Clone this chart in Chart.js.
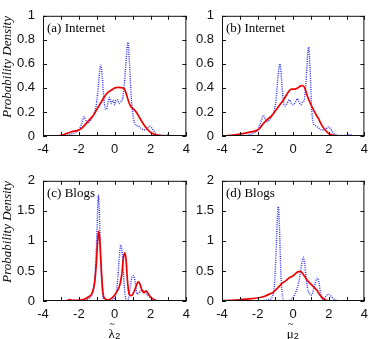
<!DOCTYPE html>
<html>
<head>
<meta charset="utf-8">
<script src="https://cdn.jsdelivr.net/npm/chart.js@4.4.0/dist/chart.umd.min.js"></script>
<style>
  html, body { margin: 0; padding: 0; background: #fff; }
  #wrap { position: relative; width: 374px; height: 339px; overflow: hidden; }
  #wrap canvas { position: absolute; }
</style>
</head>
<body>
<div id="wrap">
  <canvas id="gA" width="196" height="165" style="left:0;top:0"></canvas>
  <canvas id="gB" width="184" height="165" style="left:190px;top:0"></canvas>
  <canvas id="gC" width="196" height="174" style="left:0;top:165px"></canvas>
  <canvas id="gD" width="184" height="174" style="left:190px;top:165px"></canvas>
</div>
<script>
// ========== DADOS ==========
// (a) Internet, lambda
const xA_azul = [-4, -3.1, -2.8, -2.5, -2.2, -2.0, -1.85, -1.7, -1.6, -1.5, -1.35, -1.2, -1.05, -0.95, -0.85, -0.78, -0.7, -0.6, -0.48, -0.38, -0.29, -0.2, -0.1, 0, 0.08, 0.16, 0.24, 0.32, 0.45, 0.55, 0.65, 0.74, 0.82, 0.9, 1.0, 1.1, 1.2, 1.35, 1.5, 1.7, 1.85, 1.97, 2.1, 2.3, 2.6, 2.85, 2.97, 3.1, 3.4, 4];
const yA_azul = [0, 0, 0.005, 0.012, 0.03, 0.05, 0.1, 0.16, 0.13, 0.11, 0.13, 0.17, 0.24, 0.35, 0.52, 0.59, 0.5, 0.3, 0.22, 0.27, 0.32, 0.27, 0.3, 0.26, 0.3, 0.3, 0.27, 0.28, 0.32, 0.45, 0.65, 0.78, 0.62, 0.38, 0.2, 0.11, 0.09, 0.08, 0.06, 0.05, 0.07, 0.08, 0.06, 0.02, 0.005, 0.005, 0.012, 0.004, 0, 0];
const xA_verm = [-4, -3.2, -3.0, -2.7, -2.4, -2.0, -1.8, -1.5, -1.2, -1.0, -0.8, -0.6, -0.4, -0.2, 0, 0.2, 0.45, 0.55, 0.65, 0.75, 0.88, 1.0, 1.2, 1.4, 1.6, 1.8, 2.0, 2.2, 2.5, 3, 4];
const yA_verm = [0, 0, 0.005, 0.02, 0.035, 0.05, 0.07, 0.12, 0.17, 0.22, 0.27, 0.32, 0.36, 0.38, 0.4, 0.405, 0.4, 0.39, 0.35, 0.3, 0.25, 0.23, 0.2, 0.15, 0.1, 0.06, 0.03, 0.015, 0.005, 0, 0];

// (b) Internet, mu
const xB_azul = [-4, -3.0, -2.6, -2.3, -2.0, -1.85, -1.67, -1.57, -1.47, -1.35, -1.2, -1.05, -0.95, -0.85, -0.74, -0.66, -0.56, -0.45, -0.35, -0.22, -0.1, 0, 0.12, 0.24, 0.33, 0.42, 0.52, 0.62, 0.72, 0.8, 0.87, 0.95, 1.03, 1.12, 1.22, 1.4, 1.6, 1.8, 1.96, 2.1, 2.3, 2.6, 3.0, 3.2, 3.4, 4];
const yB_azul = [0, 0, 0.005, 0.02, 0.05, 0.1, 0.17, 0.14, 0.12, 0.13, 0.17, 0.22, 0.32, 0.5, 0.6, 0.48, 0.3, 0.25, 0.27, 0.3, 0.27, 0.26, 0.28, 0.31, 0.28, 0.26, 0.28, 0.3, 0.45, 0.65, 0.74, 0.55, 0.25, 0.11, 0.09, 0.07, 0.05, 0.05, 0.075, 0.06, 0.02, 0.005, 0.005, 0.012, 0.003, 0];
const xB_verm = [-4, -3.5, -3.0, -2.5, -2.0, -1.85, -1.7, -1.5, -1.2, -1.0, -0.7, -0.5, -0.3, -0.1, 0.1, 0.25, 0.4, 0.52, 0.65, 0.8, 1.0, 1.2, 1.4, 1.6, 1.8, 2.0, 2.3, 2.7, 4];
const yB_verm = [0, 0.005, 0.015, 0.03, 0.05, 0.07, 0.1, 0.13, 0.17, 0.21, 0.27, 0.31, 0.36, 0.39, 0.39, 0.4, 0.415, 0.42, 0.4, 0.33, 0.26, 0.2, 0.15, 0.09, 0.05, 0.02, 0.005, 0, 0];

// (c) Blogs, lambda
const xC_azul = [-4, -2, -1.6, -1.4, -1.25, -1.12, -1.02, -0.96, -0.91, -0.86, -0.79, -0.71, -0.62, -0.5, -0.3, -0.1, 0.05, 0.15, 0.25, 0.34, 0.42, 0.5, 0.58, 0.68, 0.78, 0.88, 0.97, 1.06, 1.15, 1.24, 1.34, 1.45, 1.57, 1.7, 1.82, 1.95, 2.1, 2.3, 2.5, 4];
const yC_azul = [0, 0, 0.02, 0.05, 0.12, 0.35, 0.9, 1.45, 1.77, 1.5, 0.8, 0.25, 0.03, 0, 0, 0.02, 0.1, 0.3, 0.7, 0.93, 0.8, 0.4, 0.1, 0.01, 0.05, 0.25, 0.4, 0.42, 0.3, 0.12, 0.13, 0.17, 0.17, 0.14, 0.1, 0.06, 0.03, 0.01, 0, 0];
const xC_verm = [-4, -2.8, -2.62, -2.5, -2.38, -2.1, -1.7, -1.45, -1.28, -1.12, -1.02, -0.95, -0.9, -0.84, -0.76, -0.66, -0.55, -0.4, -0.2, 0, 0.15, 0.28, 0.4, 0.48, 0.56, 0.63, 0.71, 0.8, 0.9, 1.0, 1.1, 1.2, 1.28, 1.34, 1.42, 1.52, 1.62, 1.75, 1.85, 2.0, 2.2, 2.4, 4];
const yC_verm = [0, 0, 0.01, 0.025, 0.01, 0.01, 0.03, 0.07, 0.12, 0.3, 0.65, 1.0, 1.16, 1.05, 0.6, 0.15, 0.04, 0.02, 0.04, 0.1, 0.17, 0.26, 0.45, 0.7, 0.8, 0.7, 0.35, 0.12, 0.09, 0.11, 0.17, 0.25, 0.31, 0.32, 0.27, 0.18, 0.14, 0.17, 0.13, 0.07, 0.02, 0, 0];

// (d) Blogs, mu
const xD_azul = [-4, -2, -1.6, -1.4, -1.2, -1.06, -0.97, -0.9, -0.84, -0.78, -0.71, -0.63, -0.52, -0.3, -0.15, 0, 0.15, 0.3, 0.42, 0.5, 0.57, 0.64, 0.72, 0.8, 0.9, 1.0, 1.1, 1.2, 1.3, 1.37, 1.45, 1.55, 1.66, 1.78, 1.9, 2.0, 2.15, 2.35, 2.7, 4];
const yD_azul = [0, 0, 0.01, 0.02, 0.06, 0.25, 0.75, 1.3, 1.57, 1.3, 0.6, 0.15, 0.01, 0, 0.02, 0.06, 0.15, 0.3, 0.5, 0.66, 0.73, 0.62, 0.4, 0.22, 0.13, 0.1, 0.14, 0.25, 0.36, 0.38, 0.3, 0.12, 0.03, 0.06, 0.1, 0.11, 0.07, 0.02, 0, 0];
const xD_verm = [-4, -3.5, -3, -2.5, -2, -1.6, -1.3, -1.15, -1.0, -0.8, -0.6, -0.4, -0.2, 0, 0.15, 0.3, 0.42, 0.6, 0.8, 1.0, 1.2, 1.35, 1.5, 1.65, 1.8, 2.0, 4];
const yD_verm = [0.005, 0.01, 0.02, 0.035, 0.05, 0.08, 0.12, 0.14, 0.18, 0.24, 0.3, 0.34, 0.39, 0.42, 0.46, 0.49, 0.49, 0.43, 0.34, 0.28, 0.22, 0.17, 0.1, 0.05, 0.02, 0, 0];

// eixos
const limitesX = [-4, 4];
const passoX = 1;
const rotulosX = [-4, -2, 0, 2, 4];
const limitesY_internet = [0, 1];
const passoY_internet = 0.2;
const limitesY_blogs = [0, 2];
const passoY_blogs = 0.5;

const titulos = ['(a) Internet', '(b) Internet', '(c) Blogs', '(d) Blogs'];
const rotuloY = 'Probability Density';

const FONTE_NUM = "'Liberation Sans', Arial, sans-serif";
const FONTE_TXT = "13px 'Liberation Serif', 'Times New Roman', serif";

// ========== PLUGIN: moldura, ticks para dentro, textos ==========
const molduraPlugin = {
    id: 'moldura',
    afterDatasetsDraw(chart, args, opts) {
        const { ctx, chartArea: a, scales } = chart;
        ctx.save();
        ctx.strokeStyle = '#111';
        ctx.lineWidth = 1;
        ctx.beginPath();
        scales.x.ticks.forEach(t => {
            const px = Math.round(scales.x.getPixelForValue(t.value)) + 0.5;
            ctx.moveTo(px, a.bottom); ctx.lineTo(px, a.bottom - 4);
            ctx.moveTo(px, a.top); ctx.lineTo(px, a.top + 4);
        });
        scales.y.ticks.forEach(t => {
            const py = Math.round(scales.y.getPixelForValue(t.value)) + 0.5;
            ctx.moveTo(a.left, py); ctx.lineTo(a.left + 4, py);
            ctx.moveTo(a.right, py); ctx.lineTo(a.right - 4, py);
        });
        ctx.stroke();
        ctx.strokeRect(a.left + 0.5, a.top + 0.5, a.width - 1, a.height - 1);
        ctx.restore();
    },
    afterDraw(chart, args, opts) {
        const { ctx, chartArea: a } = chart;
        ctx.save();
        ctx.fillStyle = '#000';
        // titulo do painel
        ctx.font = FONTE_TXT;
        ctx.textAlign = 'left';
        ctx.textBaseline = 'alphabetic';
        ctx.fillText(opts.titulo, a.left + 4, a.top + 16.5);
        // rotulo vertical
        if (opts.rotuloY) {
            ctx.save();
            ctx.translate(8, (a.top + a.bottom) / 2 - 9);
            ctx.rotate(-Math.PI / 2);
            ctx.font = "italic " + FONTE_TXT;
            ctx.textAlign = 'center';
            ctx.textBaseline = 'middle';
            ctx.fillText(opts.rotuloY, 0, 0);
            ctx.restore();
        }
        // rotulo horizontal: letra grega, til por cima, indice 2
        if (opts.letraX) {
            const cx = (a.left + a.right) / 2 - 3;
            const base = chart.height - 1.5;
            ctx.font = FONTE_TXT;
            ctx.textAlign = 'center';
            ctx.fillText(opts.letraX, cx, base);
            ctx.font = "10px 'Liberation Serif', serif";
            ctx.fillText('~', cx + 0.5, base - 11);
            ctx.font = "9px " + FONTE_NUM;
            ctx.textAlign = 'left';
            ctx.fillText('2', cx + 3.5, chart.height);
        }
        ctx.restore();
    }
};

// ========== CRIAR GRAFICO ==========
function criarPainel(id, xAzul, yAzul, xVerm, yVerm, limY, passoY, config) {
    const ctx = document.getElementById(id).getContext('2d');
    const pontos = (xs, ys) => xs.map((x, i) => ({ x: x, y: ys[i] }));

    return new Chart(ctx, {
        type: 'line',
        data: {
            datasets: [
                {
                    data: pontos(xVerm, yVerm),
                    borderColor: '#ee0000',
                    borderWidth: 1.7,
                    pointRadius: 0,
                    cubicInterpolationMode: 'monotone',
                    fill: false
                },
                {
                    data: pontos(xAzul, yAzul),
                    borderColor: '#2a2aff',
                    borderWidth: 1.4,
                    borderDash: [1, 1.2],
                    pointRadius: 0,
                    cubicInterpolationMode: 'monotone',
                    fill: false
                }
            ]
        },
        options: {
            responsive: false,
            animation: false,
            events: [],
            layout: { padding: { top: 5, right: 5, left: 0, bottom: 0 } },
            plugins: {
                legend: { display: false },
                tooltip: { enabled: false },
                moldura: config
            },
            scales: {
                x: {
                    type: 'linear',
                    min: limitesX[0],
                    max: limitesX[1],
                    grid: { display: false, drawTicks: false },
                    border: { display: false },
                    afterFit: s => { s.height = config.alturaX; },
                    ticks: {
                        stepSize: passoX,
                        autoSkip: false,
                        maxRotation: 0,
                        padding: 6,
                        color: '#111',
                        font: { family: FONTE_NUM, size: 13 },
                        callback: v => rotulosX.includes(v) ? String(v) : ''
                    }
                },
                y: {
                    min: limY[0],
                    max: limY[1],
                    grid: { display: false, drawTicks: false },
                    border: { display: false },
                    afterFit: s => { s.width = config.larguraY; },
                    ticks: {
                        stepSize: passoY,
                        padding: 8,
                        color: '#111',
                        font: { family: FONTE_NUM, size: 13 },
                        callback: v => String(Number(v.toFixed(1)))
                    }
                }
            }
        },
        plugins: [molduraPlugin]
    });
}

criarPainel('gA', xA_azul, yA_azul, xA_verm, yA_verm, limitesY_internet, passoY_internet,
    { titulo: titulos[0], rotuloY: rotuloY, larguraY: 43, alturaX: 29 });
criarPainel('gB', xB_azul, yB_azul, xB_verm, yB_verm, limitesY_internet, passoY_internet,
    { titulo: titulos[1], larguraY: 32, alturaX: 29 });
criarPainel('gC', xC_azul, yC_azul, xC_verm, yC_verm, limitesY_blogs, passoY_blogs,
    { titulo: titulos[2], rotuloY: rotuloY, larguraY: 43, alturaX: 38, letraX: '\u03BB' });
criarPainel('gD', xD_azul, yD_azul, xD_verm, yD_verm, limitesY_blogs, passoY_blogs,
    { titulo: titulos[3], larguraY: 32, alturaX: 38, letraX: '\u03BC' });
</script>
</body>
</html>
